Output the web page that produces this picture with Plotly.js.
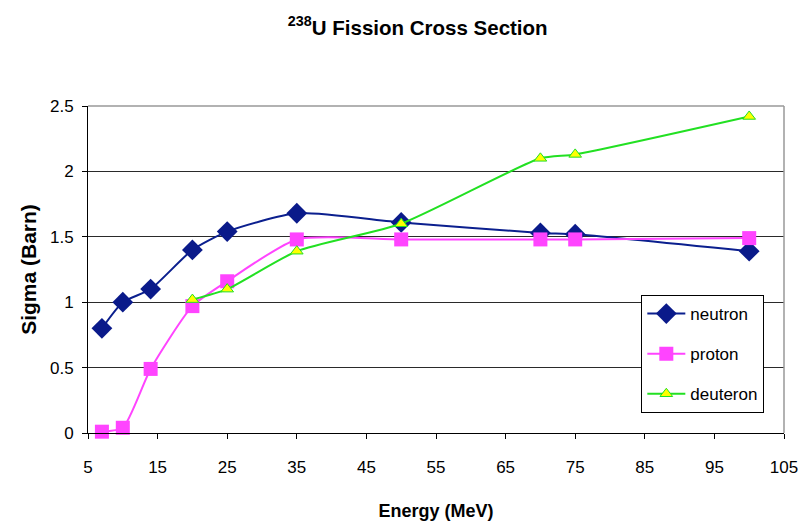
<!DOCTYPE html>
<html>
<head>
<meta charset="utf-8">
<script src="https://cdn.plot.ly/plotly-3.0.1.min.js"></script>
<style>html,body{margin:0;padding:0;background:#fff;}#chart{width:808px;height:528px;}</style>
</head>
<body>
<div id="chart"></div>
<script>
var neutronE = [7, 10, 14, 20, 25, 35, 50, 70, 75, 100];
var neutronSigma = [0.80, 1.00, 1.10, 1.40, 1.54, 1.68, 1.61, 1.53, 1.52, 1.39];
var protonE = [7, 10, 14, 20, 25, 35, 50, 70, 75, 100];
var protonSigma = [0.01, 0.04, 0.49, 0.97, 1.16, 1.48, 1.48, 1.48, 1.48, 1.49];
var deuteronE = [20, 25, 35, 50, 70, 75, 100];
var deuteronSigma = [1.02, 1.10, 1.39, 1.60, 2.10, 2.13, 2.42];
var xTicks = [5, 15, 25, 35, 45, 55, 65, 75, 85, 95, 105];
var yTicks = [0, 0.5, 1, 1.5, 2, 2.5];
var yTickText = ["0", "0.5", "1", "1.5", "2", "2.5"];

var SANS = "Liberation Sans, Arial, sans-serif";

var traces = [
  {
    x: neutronE, y: neutronSigma, name: "neutron", type: "scatter", mode: "lines+markers",
    line: {color: "#0B1F8E", width: 2, shape: "spline", smoothing: 0.6},
    marker: {symbol: "diamond", size: 16, color: "#0A1A8A"},
    cliponaxis: false, legendgroup: "a"
  },
  {
    x: protonE, y: protonSigma, name: "proton", type: "scatter", mode: "lines+markers",
    line: {color: "#FF44FF", width: 2, shape: "spline", smoothing: 0.6},
    marker: {symbol: "square", size: 14, color: "#FF44FF"},
    cliponaxis: false, legendgroup: "b"
  },
  {
    x: deuteronE, y: deuteronSigma, name: "deuteron", type: "scatter", mode: "lines+markers",
    line: {color: "#22E022", width: 2, shape: "spline", smoothing: 0.6},
    marker: {symbol: "triangle-up", size: 11, color: "#FFFF00", line: {color: "#22E022", width: 1}},
    cliponaxis: false, legendgroup: "c"
  }
];

var layout = {
  width: 808, height: 528,
  margin: {l: 88, r: 24, t: 106, b: 95},
  paper_bgcolor: "#ffffff", plot_bgcolor: "#ffffff",
  showlegend: true,
  title: {
    text: "<b><sup>238</sup>U Fission Cross Section</b>",
    font: {family: SANS, size: 20.5, color: "#000"},
    x: 0.517, xanchor: "center", y: 0.948, yanchor: "middle"
  },
  xaxis: {
    range: [5, 105], tickmode: "array", tickvals: xTicks, ticktext: xTicks.map(String),
    showgrid: false, zeroline: false, showline: true, linecolor: "#000", linewidth: 1,
    ticks: "outside", ticklen: 5, tickcolor: "#000", ticklabelstandoff: 14,
    tickfont: {family: SANS, size: 17, color: "#000"},
    title: {text: "<b>Energy (MeV)</b>", font: {family: SANS, size: 18, color: "#000"}, standoff: 27}
  },
  yaxis: {
    range: [0, 2.5], tickmode: "array", tickvals: yTicks, ticktext: yTickText,
    showgrid: true, gridcolor: "#2a2a2a", gridwidth: 1, zeroline: false,
    showline: true, linecolor: "#000", linewidth: 1,
    ticks: "outside", ticklen: 5, tickcolor: "#000", ticklabelstandoff: 5,
    tickfont: {family: SANS, size: 17, color: "#000"},
    title: {text: "<b>Sigma (Barn)</b>", font: {family: SANS, size: 21, color: "#000"}, standoff: 7}
  },
  legend: {
    x: 0.795, y: 0.422, xanchor: "left", yanchor: "top",
    bgcolor: "#fff", bordercolor: "#000", borderwidth: 1,
    font: {family: SANS, size: 17, color: "#000"},
    traceorder: "grouped", tracegroupgap: 15, itemwidth: 38
  },
  shapes: [
    {type: "line", xref: "paper", yref: "paper", x0: 0, x1: 1, y0: 1, y1: 1, line: {color: "#999", width: 1.5}},
    {type: "line", xref: "paper", yref: "paper", x0: 1, x1: 1, y0: 0, y1: 1, line: {color: "#999", width: 1.5}}
  ]
};

Plotly.newPlot("chart", traces, layout, {displayModeBar: false, staticPlot: true});
</script>
</body>
</html>
